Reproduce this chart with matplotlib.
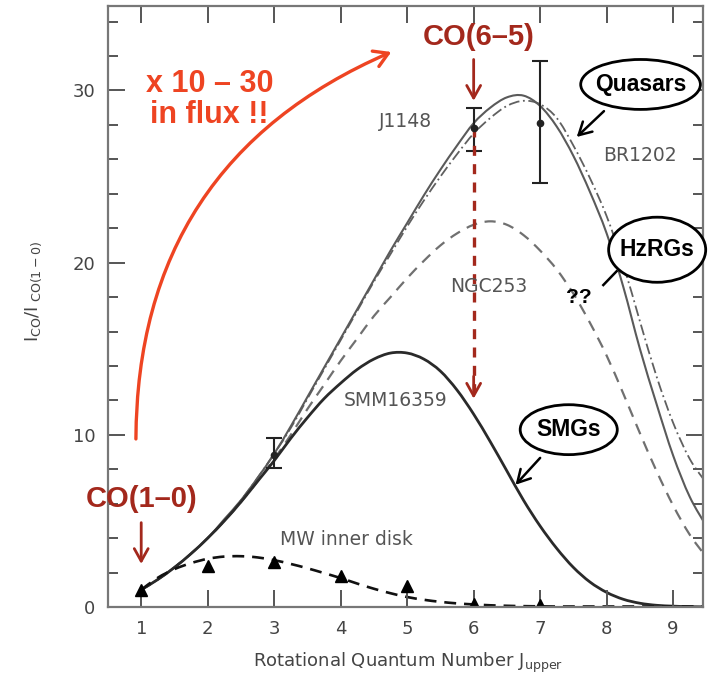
import matplotlib
matplotlib.use("Agg")
import matplotlib.pyplot as plt
from matplotlib.patches import Ellipse, FancyArrowPatch, PathPatch
from matplotlib.path import Path

plt.rcParams['font.family'] = ['DejaVu Sans']
plt.rcParams['mathtext.fontset'] = 'dejavusans'

# ---- data -----------------------------------------------------------
J_grid = [1.0, 1.25, 1.5, 1.75, 2.0, 2.25, 2.5, 2.75, 3.0, 3.25, 3.5, 3.75,
          4.0, 4.25, 4.5, 4.75, 5.0, 5.25, 5.5, 5.75, 6.0, 6.25, 6.5, 6.75,
          7.0, 7.25, 7.5, 7.75, 8.0, 8.25, 8.5, 8.75, 9.0, 9.25, 9.5]

j1148 = [1.0, 1.6, 2.3, 3.1, 4.0, 5.1, 6.2, 7.5, 8.9, 10.5, 12.2, 13.9,
         15.6, 17.3, 19.0, 20.7, 22.3, 23.9, 25.4, 26.8, 28.1, 29.0, 29.6, 29.7,
         29.1, 27.9, 26.2, 24.1, 21.7, 18.6, 15.0, 11.8, 8.8, 6.4, 4.7]

br1202 = [1.0, 1.6, 2.3, 3.1, 4.0, 5.0, 6.2, 7.5, 8.9, 10.4, 12.1, 13.8,
          15.5, 17.2, 18.9, 20.5, 22.1, 23.6, 25.0, 26.3, 27.5, 28.4, 29.1, 29.4,
          29.2, 28.4, 26.8, 24.9, 22.7, 19.9, 16.6, 13.4, 10.7, 8.6, 7.2]

ngc253 = [1.0, 1.6, 2.3, 3.1, 4.0, 5.0, 6.1, 7.3, 8.6, 10.0, 11.5, 12.9,
          14.3, 15.6, 16.9, 18.0, 19.1, 20.1, 21.0, 21.7, 22.2, 22.4, 22.2, 21.6,
          20.7, 19.6, 18.2, 16.5, 14.6, 12.4, 10.1, 7.9, 5.9, 4.2, 2.9]

smm16359 = [1.0, 1.6, 2.3, 3.1, 4.0, 5.0, 6.1, 7.3, 8.5, 9.8, 11.0, 12.1,
            13.0, 13.8, 14.4, 14.75, 14.75, 14.4, 13.7, 12.6, 11.2, 9.6, 7.9, 6.2,
            4.7, 3.4, 2.3, 1.45, 0.85, 0.45, 0.22, 0.1, 0.05, 0.02, 0.01]

mw_disk = [1.0, 1.7, 2.2, 2.55, 2.8, 2.93, 2.95, 2.88, 2.72, 2.5, 2.25, 1.97,
           1.68, 1.36, 1.06, 0.8, 0.58, 0.42, 0.3, 0.21, 0.15, 0.1, 0.07, 0.05,
           0.04, 0.03, 0.03, 0.03, 0.03, 0.03, 0.03, 0.03, 0.03, 0.03, 0.03]

mw_J = [1, 2, 3, 4, 5, 6, 7]
mw_obs = [1.0, 2.4, 2.6, 1.8, 1.2, 0.15, 0.12]

qso_J = [3, 6, 7]
qso_obs = [8.8, 27.8, 28.1]
qso_err_lo = [0.7, 1.3, 3.5]
qso_err_hi = [1.0, 1.2, 3.6]

x_ticks = [1, 2, 3, 4, 5, 6, 7, 8, 9]
y_ticks = [0, 10, 20, 30]


def smooth_path(xs, ys):
    """Catmull-Rom spline through the given points, as a Bezier Path."""
    n = len(xs)
    verts = [(xs[0], ys[0])]
    codes = [Path.MOVETO]
    for i in range(n - 1):
        i0, i2, i3 = max(i - 1, 0), i + 1, min(i + 2, n - 1)
        c1 = (xs[i] + (xs[i2] - xs[i0]) / 6.0, ys[i] + (ys[i2] - ys[i0]) / 6.0)
        c2 = (xs[i2] - (xs[i3] - xs[i]) / 6.0, ys[i2] - (ys[i3] - ys[i]) / 6.0)
        verts += [c1, c2, (xs[i2], ys[i2])]
        codes += [Path.CURVE4] * 3
    return Path(verts, codes)


def curve(ax, xs, ys, **kw):
    ax.add_patch(PathPatch(smooth_path(xs, ys), fill=False,
                           capstyle='butt', joinstyle='round', **kw))


# ---- figure ---------------------------------------------------------
fig = plt.figure(figsize=(7.08, 6.78), dpi=100)
ax = fig.add_axes([0.1525, 0.1047, 0.8405, 0.8863])
ax.set_xlim(0.5, 9.45)
ax.set_ylim(0, 34.9)

curve(ax, J_grid, ngc253, ec='#707070', lw=1.6, ls=(0, (5, 3.5)))
curve(ax, J_grid, br1202, ec='#606060', lw=1.3, ls=(0, (6, 2, 1, 2)))
curve(ax, J_grid, j1148, ec='#5a5a5a', lw=1.5, ls='-')
curve(ax, J_grid, smm16359, ec='#2a2a2a', lw=2.0, ls='-')
curve(ax, J_grid, mw_disk, ec='#111111', lw=1.9, ls=(0, (4.5, 3)))

ax.plot(mw_J, mw_obs, ls='none', marker='^', color='black', ms=8)
ax.errorbar(qso_J, qso_obs, yerr=[qso_err_lo, qso_err_hi], fmt='o',
            color='#222222', ms=4.5, elinewidth=1.5, capsize=6, capthick=1.5)

# axes styling
for s in ax.spines.values():
    s.set_color('#777777')
    s.set_linewidth(1.6)
ax.set_xticks(x_ticks)
ax.set_yticks(y_ticks)
ax.set_yticks(list(range(2, 35, 2)), minor=True)
ax.tick_params(which='both', direction='in', top=True, right=True,
               colors='#555555', labelcolor='#444444', width=1.4)
ax.tick_params(which='major', length=12, labelsize=13, pad=9)
ax.tick_params(which='minor', length=7)
ax.tick_params(axis='x', which='minor', bottom=False, top=False)

ax.set_xlabel(r'Rotational Quantum Number J$_{\mathregular{upper}}$',
              fontsize=13, color='#444444')
ax.xaxis.set_label_coords(0.504, -0.073)
ax.set_ylabel(r'$\mathregular{I_{CO}/I_{\ CO(1-0)}}$', fontsize=13,
              color='#444444')
ax.yaxis.set_label_coords(-0.108, 0.525)

# grey labels
lab = dict(fontsize=13.5, color='#555555', ha='center', va='center')
ax.text(4.97, 28.2, 'J1148', **lab)
ax.text(8.5, 26.2, 'BR1202', **lab)
ax.text(6.22, 18.6, 'NGC253', **lab)
ax.text(4.82, 12.0, 'SMM16359', **lab)
ax.text(4.09, 3.9, 'MW inner disk', **lab)

# red annotations
red = '#ee4422'
dred = '#a3281c'
bold = dict(family=['Liberation Sans', 'DejaVu Sans'], weight='bold')
ax.text(2.03, 29.5, 'x 10 \u2013 30\nin flux !!', color=red, fontsize=22,
        ha='center', va='center', linespacing=1.05, **bold)
ax.add_patch(FancyArrowPatch((0.92, 9.6), (4.8, 32.3),
                             connectionstyle='arc3,rad=-0.33',
                             arrowstyle='->,head_length=10,head_width=6',
                             color=red, lw=2.4, clip_on=False))
ax.text(6.08, 33.1, 'CO(6\u20135)', color=dred, fontsize=21,
        ha='center', va='center', **bold)
ax.add_patch(FancyArrowPatch((6.0, 31.8), (6.0, 29.4),
                             arrowstyle='->,head_length=9,head_width=5',
                             color=dred, lw=2.0, shrinkA=0, shrinkB=0))
ax.plot([6.0, 6.0], [27.9, 12.6], color=dred, lw=2.4, ls=(0, (3, 2.5)))
ax.add_patch(FancyArrowPatch((6.0, 13.4), (6.0, 12.1),
                             arrowstyle='->,head_length=9,head_width=5',
                             color=dred, lw=2.0, shrinkA=0, shrinkB=0))
ax.text(1.0, 6.3, 'CO(1\u20130)', color=dred, fontsize=21,
        ha='center', va='center', **bold)
ax.add_patch(FancyArrowPatch((1.0, 4.9), (1.0, 2.5),
                             arrowstyle='->,head_length=9,head_width=5',
                             color=dred, lw=2.0, shrinkA=0, shrinkB=0))


# ellipses
def bubble(xc, yc, w, h, txt):
    ax.add_patch(Ellipse((xc, yc), w, h, fc='white', ec='black', lw=2.0,
                         clip_on=False, zorder=5))
    ax.text(xc, yc, txt, fontsize=16.5, color='black', ha='center',
            va='center', zorder=6, **bold)


bubble(8.51, 30.35, 1.8, 2.9, 'Quasars')
bubble(8.76, 20.75, 1.46, 3.78, 'HzRGs')
bubble(7.43, 10.3, 1.46, 2.9, 'SMGs')

ax.add_patch(FancyArrowPatch((7.96, 28.8), (7.55, 27.3),
                             arrowstyle='->,head_length=9,head_width=5',
                             color='black', lw=1.8, shrinkA=0, shrinkB=0,
                             zorder=6))
ax.add_patch(FancyArrowPatch((7.0, 8.66), (6.63, 7.1),
                             arrowstyle='->,head_length=9,head_width=5',
                             color='black', lw=1.8, shrinkA=0, shrinkB=0,
                             zorder=6))
ax.plot([8.15, 7.95], [19.5, 18.7], color='black', lw=1.8, zorder=6)
ax.text(7.58, 17.95, '??', fontsize=15, color='black', ha='center',
        va='center', **bold)

fig.savefig('out.png', dpi=100)
